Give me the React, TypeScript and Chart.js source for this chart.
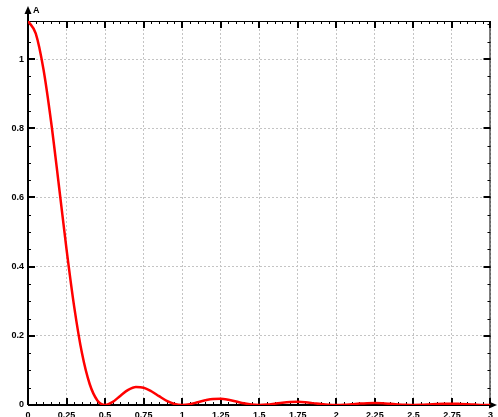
import React, { useEffect, useRef } from "react";
import { Chart, registerables } from "chart.js";

Chart.register(...registerables);

const freqs: number[] = [
  0, 0.05, 0.1, 0.15, 0.2, 0.25, 0.3, 0.35, 0.4, 0.45,
  0.5, 0.55, 0.6, 0.65, 0.7, 0.75, 0.8, 0.85, 0.9, 0.95,
  1, 1.05, 1.1, 1.15, 1.2, 1.25, 1.3, 1.35, 1.4, 1.45,
  1.5, 1.55, 1.6, 1.65, 1.7, 1.75, 1.8, 1.85, 1.9, 1.95,
  2, 2.05, 2.1, 2.15, 2.2, 2.25, 2.3, 2.35, 2.4, 2.45,
  2.5, 2.55, 2.6, 2.65, 2.7, 2.75, 2.8, 2.85, 2.9, 2.95, 3,
];

const amplitude: number[] = [
  1.11, 1.074, 0.971, 0.818, 0.636, 0.45, 0.283, 0.15, 0.0607, 0.0133,
  0, 0.0089, 0.027, 0.0436, 0.0519, 0.05, 0.0397, 0.0255, 0.012, 0.003,
  0, 0.0024, 0.008, 0.0139, 0.0177, 0.018, 0.015, 0.0101, 0.005, 0.0013,
  0, 0.0011, 0.0038, 0.0068, 0.0088, 0.0092, 0.0079, 0.0054, 0.0027, 0.0007,
  0, 0.0006, 0.0022, 0.004, 0.0053, 0.0056, 0.0048, 0.0033, 0.0017, 0.0005,
  0, 0.0004, 0.0014, 0.0026, 0.0035, 0.0037, 0.0032, 0.0023, 0.0012, 0.0003, 0,
];

const xTickValues: number[] = [0, 0.25, 0.5, 0.75, 1, 1.25, 1.5, 1.75, 2, 2.25, 2.5, 2.75, 3];
const xTickLabels: string[] = ["0", "0.25", "0.5", "0.75", "1", "1.25", "1.5", "1.75", "2", "2.25", "2.5", "2.75", "3"];
const yTickValues: number[] = [0, 0.2, 0.4, 0.6, 0.8, 1];
const yTickLabels: string[] = ["0", "0.2", "0.4", "0.6", "0.8", "1"];
const yAxisTitle = "A";

const FONT = "'Liberation Sans', Arial, sans-serif";

const framePlugin = {
  id: "frame",
  beforeDatasetsDraw(chart: any) {
    const { ctx, chartArea, scales } = chart;
    const { left, right, top, bottom } = chartArea;
    const xs = scales.x;
    const ys = scales.y;
    ctx.save();
    ctx.strokeStyle = "#000";
    // top & right border
    ctx.lineWidth = 1;
    ctx.beginPath();
    ctx.moveTo(left, top + 0.5);
    ctx.lineTo(right, top + 0.5);
    ctx.moveTo(right - 0.5, top);
    ctx.lineTo(right - 0.5, bottom);
    ctx.stroke();
    // minor ticks
    ctx.lineWidth = 1;
    ctx.beginPath();
    for (let i = 0; i <= 60; i++) {
      const px = Math.round(xs.getPixelForValue(i * 0.05)) + 0.5;
      ctx.moveTo(px, top);
      ctx.lineTo(px, top + 3);
      ctx.moveTo(px, bottom);
      ctx.lineTo(px, bottom - 3);
    }
    for (let i = 0; i <= 22; i++) {
      const py = Math.round(ys.getPixelForValue(i * 0.05)) + 0.5;
      ctx.moveTo(left, py);
      ctx.lineTo(left + 3, py);
      ctx.moveTo(right, py);
      ctx.lineTo(right - 3, py);
    }
    ctx.stroke();
    // major ticks
    ctx.lineWidth = 2;
    ctx.beginPath();
    for (const v of xTickValues) {
      const px = Math.round(xs.getPixelForValue(v));
      ctx.moveTo(px, top);
      ctx.lineTo(px, top + 7);
      ctx.moveTo(px, bottom);
      ctx.lineTo(px, bottom - 7);
    }
    for (const v of yTickValues) {
      const py = Math.round(ys.getPixelForValue(v));
      ctx.moveTo(left, py);
      ctx.lineTo(left + 7, py);
      ctx.moveTo(right, py);
      ctx.lineTo(right - 7, py);
    }
    ctx.stroke();
    // main axes
    ctx.lineWidth = 2;
    ctx.beginPath();
    ctx.moveTo(left, bottom);
    ctx.lineTo(left, 12);
    ctx.moveTo(left, bottom);
    ctx.lineTo(chart.width - 5, bottom);
    ctx.stroke();
    // arrows
    ctx.fillStyle = "#000";
    ctx.beginPath();
    ctx.moveTo(left, 6);
    ctx.lineTo(left - 3.5, 14);
    ctx.lineTo(left + 3.5, 14);
    ctx.closePath();
    ctx.fill();
    ctx.beginPath();
    ctx.moveTo(chart.width - 1, bottom);
    ctx.lineTo(chart.width - 9, bottom - 3.5);
    ctx.lineTo(chart.width - 9, bottom + 3.5);
    ctx.closePath();
    ctx.fill();
    // axis title
    ctx.font = `bold 9px ${FONT}`;
    ctx.textAlign = "left";
    ctx.textBaseline = "middle";
    ctx.fillText(yAxisTitle, left + 5, 11);
    ctx.restore();
  },
};

export default function App() {
  const ref = useRef<HTMLCanvasElement | null>(null);
  useEffect(() => {
    if (!ref.current) return;
    const chart = new Chart(ref.current, {
      type: "line",
      data: {
        datasets: [
          {
            data: freqs.map((f, i) => ({ x: f, y: amplitude[i] })),
            borderColor: "#ff0000",
            borderWidth: 2.5,
            pointRadius: 0,
            cubicInterpolationMode: "monotone",
            fill: false,
          },
        ],
      },
      options: {
        responsive: false,
        animation: false,
        layout: { padding: { top: 21, right: 7, left: 0, bottom: 0 } },
        plugins: { legend: { display: false }, tooltip: { enabled: false } },
        scales: {
          x: {
            type: "linear",
            min: 0,
            max: 3,
            afterFit: (s: any) => {
              s.height = 12;
            },
            afterBuildTicks: (s: any) => {
              s.ticks = xTickValues.map((v) => ({ value: v }));
            },
            ticks: {
              autoSkip: false,
              maxRotation: 0,
              padding: 5,
              color: "#000",
              font: { size: 9, weight: "bold", family: FONT },
              callback: (v: any) => {
                const i = xTickValues.findIndex((t) => Math.abs(t - Number(v)) < 1e-6);
                return i >= 0 ? xTickLabels[i] : "";
              },
            },
            grid: {
              color: "#c4c4c4",
              lineWidth: 1,
              drawTicks: false,
            },
            border: { display: false, dash: [2, 2] },
          },
          y: {
            type: "linear",
            min: 0,
            max: 1.11,
            afterFit: (s: any) => {
              s.width = 28;
            },
            afterBuildTicks: (s: any) => {
              s.ticks = yTickValues.map((v) => ({ value: v }));
            },
            ticks: {
              autoSkip: false,
              padding: 4,
              color: "#000",
              font: { size: 9, weight: "bold", family: FONT },
              callback: (v: any) => {
                const i = yTickValues.findIndex((t) => Math.abs(t - Number(v)) < 1e-6);
                return i >= 0 ? yTickLabels[i] : "";
              },
            },
            grid: {
              color: "#c4c4c4",
              lineWidth: 1,
              drawTicks: false,
            },
            border: { display: false, dash: [2, 2] },
          },
        },
      },
      plugins: [framePlugin],
    } as any);
    return () => chart.destroy();
  }, []);
  return (
    <div style={{ position: "absolute", left: 0, top: 0, width: 498, height: 417, background: "#fff" }}>
      <canvas ref={ref} width={498} height={417} style={{ display: "block" }} />
    </div>
  );
}
